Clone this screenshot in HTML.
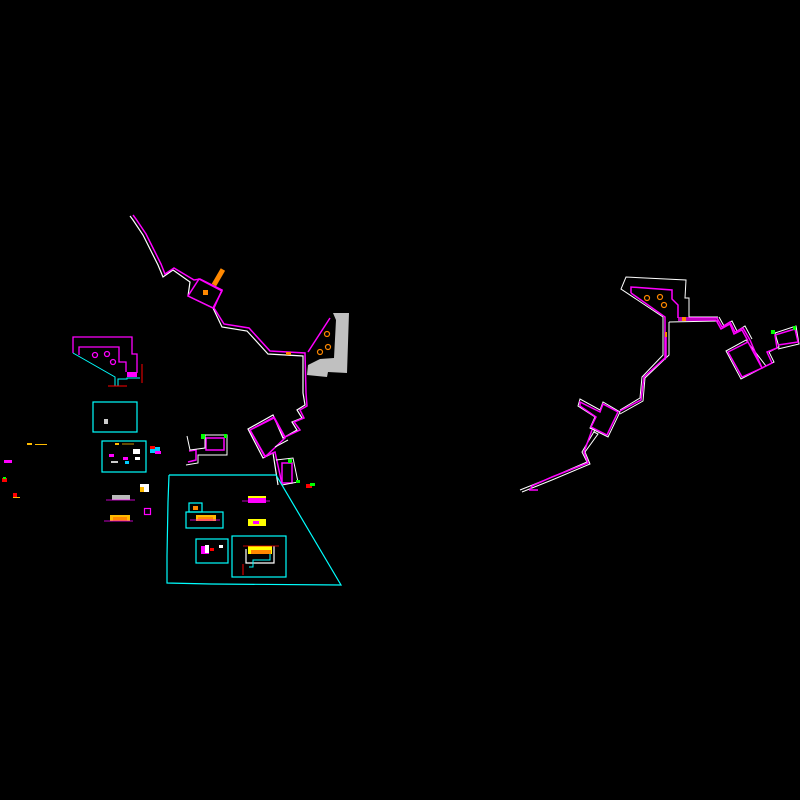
<!DOCTYPE html>
<html><head><meta charset="utf-8"><style>html,body{margin:0;padding:0;background:#000}svg{display:block}</style></head>
<body>
<svg width="800" height="800" viewBox="0 0 800 800" xmlns="http://www.w3.org/2000/svg" fill="none" stroke-width="1.2">
<rect width="800" height="800" fill="#000"/>
<g stroke="#fff">
<polyline points="130,216 133,220 143,235 158,265 163,277 173,270 190,282 188,296 213,308 222,327 247,331 268,354 303,356 303,393 305,405 297,410 302,418 292,422 297,430 283,438 273,415 248,429 263,458 273,453 278,485"/>
</g>
<g stroke="#f0f" stroke-width="1.5">
<polyline points="133,215 136,219 146,234 161,264 165,274 174,268 194,280 200,279 222,290 214,308 224,324 249,328 270,351 305,353 306,393 307,406 300,410 304,418 294,422 300,430 285,437 274,417 250,430 265,456 275,452 282,484"/>
<polygon points="199,279 222,291 213,308 188,296"/>
<polygon points="250,430 274,418 285,438 265,457"/>
<polyline points="308,352 330,318"/>
<polyline points="189,451 196,450 196,460 188,462"/>
<rect x="206" y="438" width="18" height="12"/>
<rect x="282" y="463" width="10" height="20"/>
</g>
<g stroke="#fff" stroke-width="1">
<polyline points="187,436 190,450 205,448 205,435 227,435 227,455 198,455 198,463 186,465"/>
<polyline points="275,447 288,440"/>
<polyline points="276,460 293,458 298,482 282,485"/>
</g>
<polygon points="333,313 349,313 347,373 328,372 327,377 307,375 308,365 320,359 334,358 336,320" fill="#c0c0c0"/>
<g stroke="#f80" stroke-width="1.2">
<circle cx="327" cy="334" r="2.5"/><circle cx="328" cy="347" r="2.5"/><circle cx="320" cy="352" r="2.5"/>
</g>
<rect x="216" y="268" width="5" height="18" fill="#f80" transform="rotate(30 218 277)"/>
<rect x="203" y="290" width="5" height="5" fill="#f80"/>
<rect x="286" y="352" width="5" height="3" fill="#f80"/>
<rect x="201" y="434" width="4" height="5" fill="#0f0"/><rect x="224" y="434" width="3" height="4" fill="#0f0"/>
<rect x="288" y="459" width="4" height="4" fill="#0f0"/><rect x="296" y="480" width="4" height="3" fill="#0f0"/>
<rect x="306" y="484" width="6" height="4" fill="#f00"/><rect x="310" y="483" width="5" height="3" fill="#0f0"/>

<g stroke="#fff" stroke-width="1">
<polyline points="663,317 621,289 626,277 686,280 685,298 689,298 689,317 718,317"/>
<polyline points="663,317 663,355 642,377 640,398 620,410"/>
<polyline points="669,322 669,355 645,378 643,401 620,414"/>
<polyline points="669,322 718,321"/>
<polygon points="578,406 580,399 600,410 603,402 620,412 608,437 590,428 595,417"/>
<polyline points="590,428 595,430 582,452 587,462 550,478 520,490"/>
<polyline points="594,432 598,434 585,452 590,464 552,480 522,492"/>
<polyline points="719,317 724,326 732,321 737,331 745,326 752,339"/>
<polygon points="726,351 746,340 766,366 741,379"/>
<polyline points="766,366 774,362 769,352 779,347 775,333 796,326 799,344 778,349"/>
</g>
<g stroke="#f0f" stroke-width="1.5">
<polyline points="631,293 631,287 672,290 672,299 678,305 678,318"/>
<polyline points="631,293 665,317 665,360"/>
<polyline points="666,332 666,357 644,377 641,400 620,411"/>
<polyline points="678,318 717,318 722,327 730,322 735,332 743,328 750,340"/>
<polyline points="678,320 716,320 721,329 730,324 734,334 742,330 748,341"/>
<polygon points="728,352 748,342 762,368 742,377"/>
<polyline points="750,340 762,368 772,363 767,352 777,348 775,335 795,329 798,342 778,345"/>
<polygon points="580,402 600,412 603,404 618,412 607,435 591,427 596,417 580,406"/>
<polyline points="592,430 584,452 588,463 552,477 532,486 530,490 538,490"/>
</g>
<g stroke="#f80"><circle cx="647" cy="298" r="2.5"/><circle cx="660" cy="297" r="2.5"/><circle cx="664" cy="305" r="2.5"/></g>
<rect x="682" y="317" width="4" height="4" fill="#f80"/><rect x="665" y="332" width="2" height="5" fill="#f80"/>
<rect x="771" y="330" width="4" height="4" fill="#0f0"/><rect x="793" y="326" width="3" height="4" fill="#0f0"/>

<g stroke="#f0f" stroke-width="1.3">
<polyline points="73,353 73,337 132,337 132,354 137,354 137,373"/>
<polyline points="79,355 79,347 119,347 119,362 126,362 126,372"/>
<circle cx="95" cy="355" r="2.5"/><circle cx="107" cy="354" r="2.5"/><circle cx="113" cy="362" r="2.5"/>
</g>
<rect x="127" y="372" width="10" height="5" fill="#f0f"/>
<g stroke="#0ff" stroke-width="1">
<polyline points="73,353 115,377 115,386"/><polyline points="118,386 118,379 127,379 127,378 140,378"/>
</g>
<g stroke="#f00" stroke-width="1"><line x1="108" y1="386" x2="127" y2="386"/><line x1="142" y1="364" x2="142" y2="383"/></g>

<g stroke="#0ff" stroke-width="1.2">
<rect x="93" y="402" width="44" height="30"/>
<rect x="102" y="441" width="44" height="31"/>
<polyline points="169,475 276,475 341,585 211,584 167,583 167,556 168,502 169,475"/>
<rect x="186" y="512" width="37" height="16"/>
<rect x="189" y="503" width="13" height="9"/>
<rect x="196" y="539" width="32" height="24"/>
<rect x="232" y="536" width="54" height="41"/>
</g>
<rect x="104" y="419" width="4" height="5" fill="#ccc"/>
<rect x="27" y="443" width="5" height="2" fill="#fb0"/><rect x="35" y="444" width="12" height="1" fill="#fb0"/>
<rect x="4" y="460" width="8" height="3" fill="#f0f"/>
<rect x="2" y="478" width="5" height="4" fill="#f00"/><rect x="3" y="477" width="3" height="2" fill="#0f0"/>
<rect x="13" y="493" width="4" height="4" fill="#f00"/><rect x="13" y="497" width="7" height="1" fill="#fb0"/>
<rect x="150" y="447" width="10" height="6" fill="#0cf"/><rect x="150" y="446" width="5" height="3" fill="#f00"/><rect x="155" y="451" width="6" height="3" fill="#f0f"/>
<rect x="140" y="484" width="9" height="8" fill="#fff"/><rect x="140" y="487" width="4" height="5" fill="#fb0"/>
<rect x="112" y="495" width="18" height="5" fill="#bbb"/><line x1="106" y1="500" x2="135" y2="500" stroke="#f0f" stroke-width="0.8"/>
<rect x="110" y="515" width="20" height="6" fill="#fb0"/><rect x="113" y="517" width="14" height="4" fill="#f80"/><line x1="104" y1="521" x2="133" y2="521" stroke="#f0f" stroke-width="0.8"/>
<rect x="144.5" y="508.5" width="6" height="6" stroke="#f0f"/>
<rect x="109" y="454" width="5" height="3" fill="#f0f"/><rect x="123" y="457" width="5" height="3" fill="#f0f"/><rect x="133" y="449" width="7" height="5" fill="#fff"/><rect x="125" y="461" width="4" height="3" fill="#0cf"/><rect x="111" y="461" width="7" height="2" fill="#ccc"/><rect x="135" y="457" width="5" height="3" fill="#fff"/><rect x="115" y="443" width="4" height="2" fill="#fb0"/><line x1="122" y1="444" x2="134" y2="444" stroke="#fb0" stroke-width="0.8"/>
<rect x="248" y="496" width="18" height="7" fill="#f0f"/><rect x="248" y="496" width="18" height="2" fill="#ff0"/><line x1="242" y1="501" x2="270" y2="501" stroke="#f0f" stroke-width="0.8"/>
<rect x="248" y="519" width="18" height="7" fill="#ff0"/><rect x="253" y="521" width="6" height="3" fill="#f0f"/>
<rect x="196" y="515" width="20" height="6" fill="#fb0"/><rect x="198" y="517" width="15" height="4" fill="#f80"/><line x1="190" y1="520" x2="220" y2="520" stroke="#f0f" stroke-width="0.8"/>
<rect x="193" y="506" width="5" height="4" fill="#f80"/>
<rect x="201" y="546" width="8" height="8" fill="#f0f"/><rect x="205" y="545" width="4" height="8" fill="#fff"/><rect x="210" y="548" width="4" height="3" fill="#f00"/><rect x="219" y="545" width="4" height="3" fill="#fff"/>
<g stroke="#fff" stroke-width="1.2"><polyline points="246,549 246,563 274,563 274,546"/></g>
<g stroke="#0ff" stroke-width="1"><polyline points="249,567 253,567 253,560 270,560 270,550"/></g>
<rect x="248" y="546" width="24" height="8" fill="#ff0"/><rect x="251" y="550" width="20" height="4" fill="#f80"/>
<line x1="243" y1="546" x2="279" y2="546" stroke="#f00" stroke-width="0.8"/><line x1="243" y1="564" x2="243" y2="575" stroke="#f00" stroke-width="1"/>
</svg>
</body></html>
